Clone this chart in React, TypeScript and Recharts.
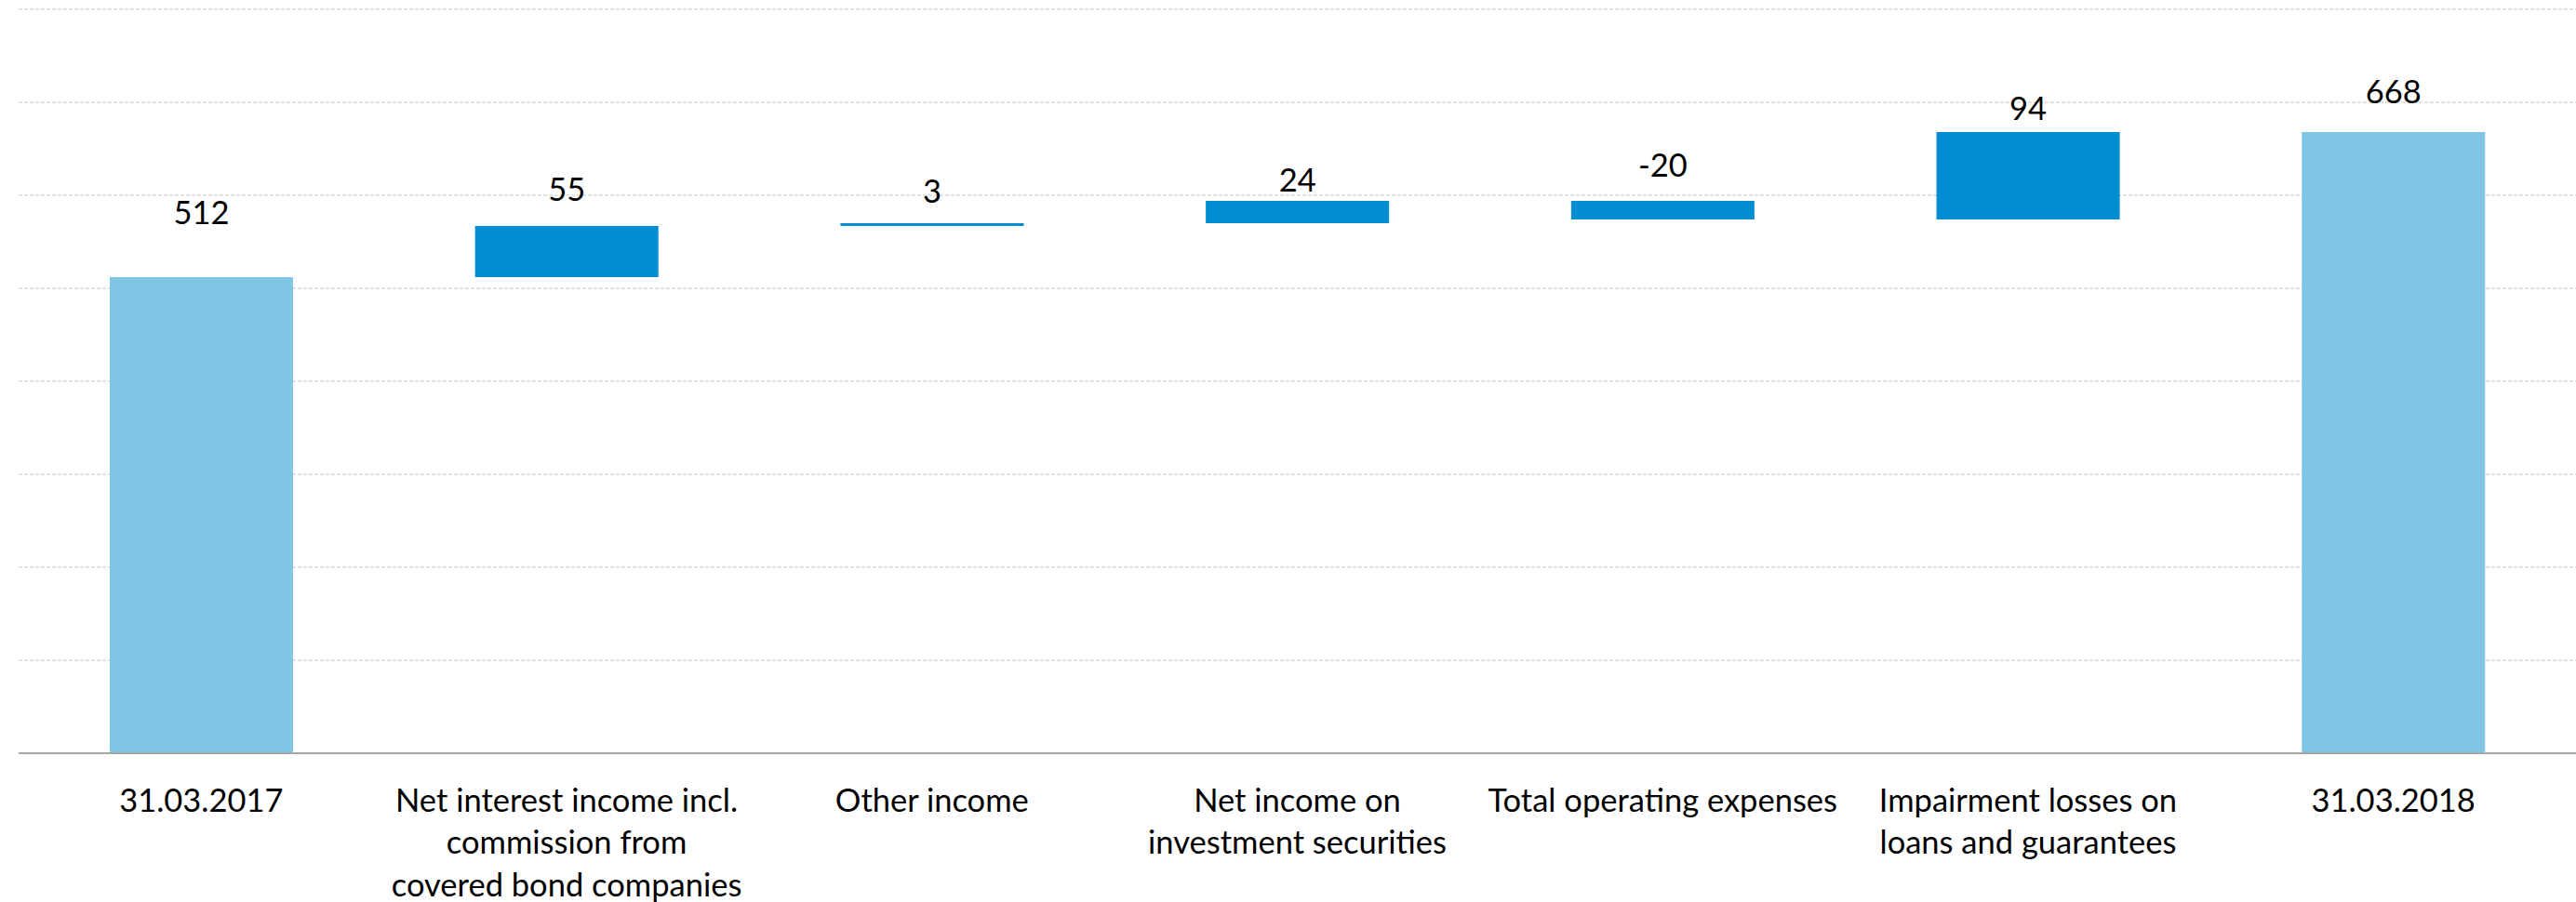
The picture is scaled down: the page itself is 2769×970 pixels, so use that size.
import React from 'react';
import { BarChart, Bar, XAxis, YAxis, CartesianGrid, Cell, LabelList } from 'recharts';

const categoryLines: string[][] = [
  ['31.03.2017'],
  ['Net interest income incl.', 'commission from', 'covered bond companies'],
  ['Other income'],
  ['Net income on', 'investment securities'],
  ['Total operating expenses'],
  ['Impairment losses on', 'loans and guarantees'],
  ['31.03.2018'],
];
const startValue = 512;
const changes = [55, 3, 24, -20, 94];
const endValue = 668;
const valueLabels = ['512', '55', '3', '24', '-20', '94', '668'];
const yTicks = [0, 100, 200, 300, 400, 500, 600, 700, 800];

// styling constants (pixel lift of each value label above its bar top)
const labelLift = [71, 41, 36, 24, 40, 27, 45];
const FONT = 'Lato, "Open Sans", sans-serif';
const FONT_SIZE = 34.5;
const TOTAL_COLOR = '#80C4E6';
const CHANGE_COLOR = '#008DD2';

type Row = { name: string; range: [number, number]; kind: 'total' | 'change'; idx: number };

const rows: Row[] = (() => {
  const out: Row[] = [];
  out.push({ name: categoryLines[0].join(' '), range: [0, startValue], kind: 'total', idx: 0 });
  let running = startValue;
  changes.forEach((c, i) => {
    const next = running + c;
    out.push({
      name: categoryLines[i + 1].join(' '),
      range: [Math.min(running, next), Math.max(running, next)],
      kind: 'change',
      idx: i + 1,
    });
    running = next;
  });
  out.push({ name: categoryLines[6].join(' '), range: [0, endValue], kind: 'total', idx: 6 });
  return out;
})();

const MultiTick = (props: any) => {
  const { x, y, index } = props;
  const lines = categoryLines[index] || [];
  return (
    <g>
      {lines.map((ln, i) => (
        <text
          key={i}
          x={x}
          y={y + 49 + i * 45.5}
          textAnchor="middle"
          dominantBaseline="central"
          fontFamily={FONT}
          fontSize={FONT_SIZE}
          fill="#000"
        >
          {ln}
        </text>
      ))}
    </g>
  );
};

const ValueLabel = (props: any) => {
  const { x, y, width, height, index } = props;
  const top = Math.min(Number(y), Number(y) + Number(height));
  return (
    <text
      x={Number(x) + Number(width) / 2}
      y={top - labelLift[index]}
      textAnchor="middle"
      dominantBaseline="central"
      fontFamily={FONT}
      fontSize={FONT_SIZE}
      fill="#000"
    >
      {valueLabels[index]}
    </text>
  );
};

export default function App() {
  return (
    <div style={{ position: 'fixed', left: 0, top: 0, width: 2769, height: 970, overflow: 'hidden', background: '#fff' }}>
      <BarChart
        width={2769}
        height={970}
        data={rows}
        margin={{ top: 10, right: 0, bottom: 0, left: 20 }}
        barSize={197}
      >
        <CartesianGrid vertical={false} stroke="#D9D9D9" strokeDasharray="4 2" strokeWidth={1.5} />
        <YAxis hide domain={[0, 800]} ticks={yTicks} />
        <XAxis
          dataKey="name"
          interval={0}
          height={160}
          tickLine={false}
          tickSize={0}
          tickMargin={0}
          axisLine={{ stroke: '#A6A6A6', strokeWidth: 2 }}
          tick={<MultiTick />}
        />
        <Bar dataKey="range" isAnimationActive={false}>
          {rows.map((r, i) => (
            <Cell key={i} fill={r.kind === 'total' ? TOTAL_COLOR : CHANGE_COLOR} />
          ))}
          <LabelList dataKey="range" content={<ValueLabel />} />
        </Bar>
      </BarChart>
    </div>
  );
}
